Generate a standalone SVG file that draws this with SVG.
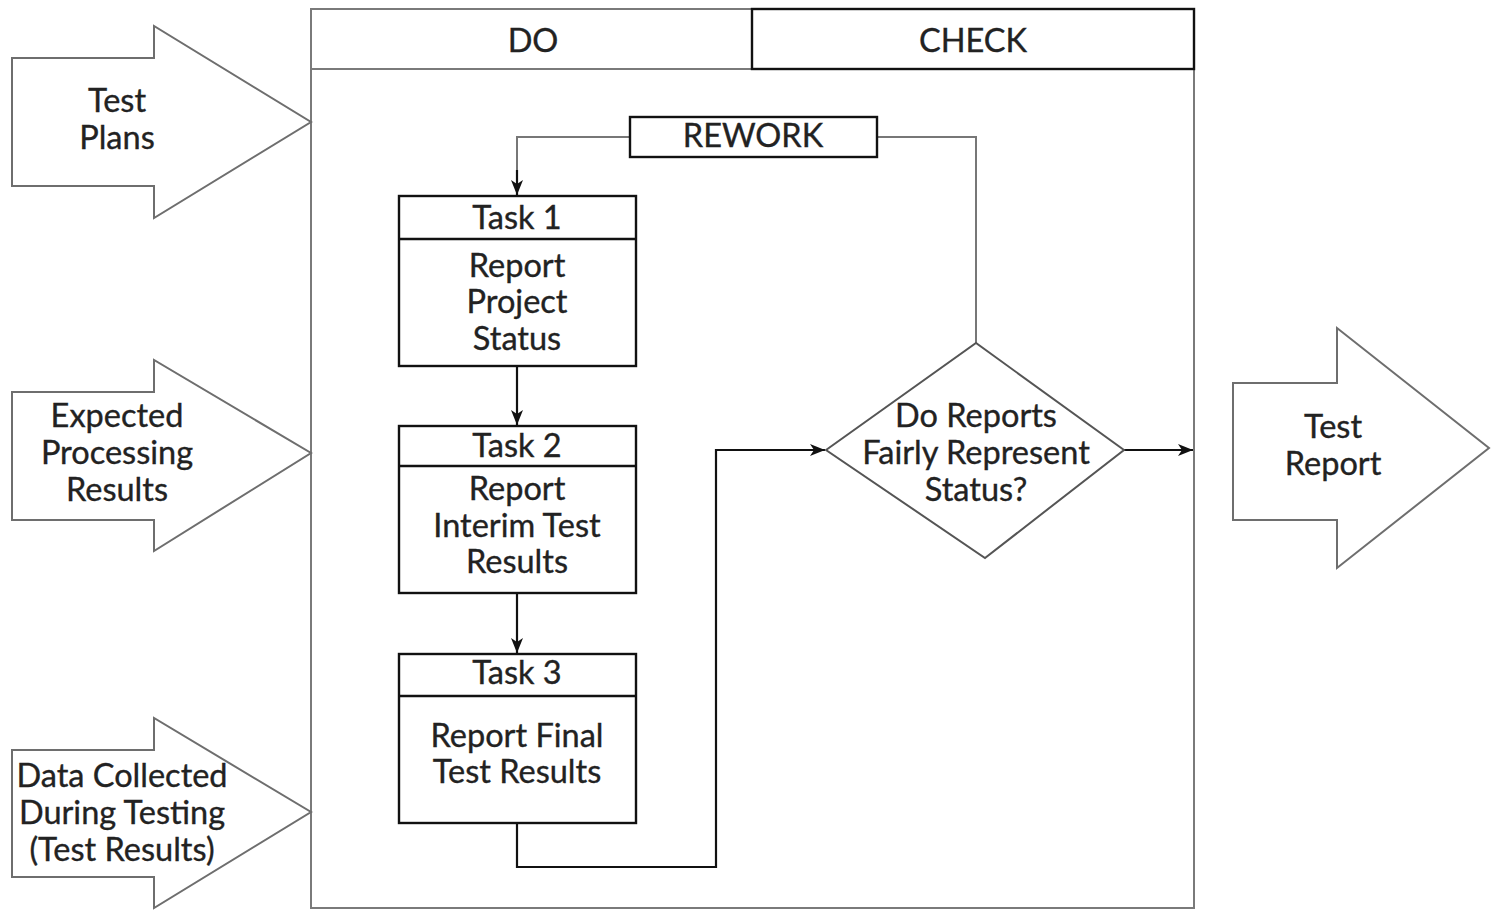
<svg xmlns="http://www.w3.org/2000/svg" width="1491" height="910" viewBox="0 0 1491 910">
  <style>
    .lbl { font-family: Lato, "Open Sans", "Liberation Sans", sans-serif; font-size: 32.5px; fill: #222; stroke: #222; stroke-width: 0.35; text-anchor: middle; }
    .frame { fill: #fff; stroke: #7a7a7a; stroke-width: 2; }
    .box { fill: #fff; stroke: #111; stroke-width: 2.4; }
    .io { fill: #fff; stroke: #6e6e6e; stroke-width: 2; stroke-linejoin: miter; }
    .wire { fill: none; stroke: #111; stroke-width: 2.2; }
    .wire-grey { fill: none; stroke: #777; stroke-width: 2; }
  </style>
  <defs>
    <marker id="arr" viewBox="0 0 15 12" refX="15" refY="6" markerWidth="15" markerHeight="12" markerUnits="userSpaceOnUse" orient="auto">
      <path d="M0,0 L15,6 L0,12 L4,6 Z" fill="#111"/>
    </marker>
  </defs>
  <rect width="1491" height="910" fill="#fff"/>

  <!-- DO / CHECK frame -->
  <g id="frame">
    <rect class="frame" x="311" y="9" width="883" height="899"/>
    <line x1="311" y1="69" x2="1194" y2="69" stroke="#7a7a7a" stroke-width="2"/>
    <rect x="752" y="9" width="442" height="60" fill="none" stroke="#111" stroke-width="2.4"/>
    <text class="lbl" x="533" y="52">DO</text>
    <text class="lbl" x="973" y="52">CHECK</text>
  </g>

  <!-- inputs -->
  <g id="in-test-plans">
    <polygon class="io" points="12,58 154,58 154,26 311,122 154,218 154,186 12,186"/>
    <text class="lbl" x="117" y="112">Test</text>
    <text class="lbl" x="117" y="149">Plans</text>
  </g>
  <g id="in-expected">
    <polygon class="io" points="12,392 154,392 154,360 311,453 154,551 154,520 12,520"/>
    <text class="lbl" x="117" y="427">Expected</text>
    <text class="lbl" x="117" y="464">Processing</text>
    <text class="lbl" x="117" y="501">Results</text>
  </g>
  <g id="in-data">
    <polygon class="io" points="12,750 154,750 154,718 311,812 154,908 154,877 12,877"/>
    <text class="lbl" x="122" y="787">Data Collected</text>
    <text class="lbl" x="122" y="824">During Testing</text>
    <text class="lbl" x="122" y="861">(Test Results)</text>
  </g>

  <!-- output -->
  <g id="out-test-report">
    <polygon class="io" points="1233,383 1337,383 1337,328 1489,448 1337,568 1337,520 1233,520"/>
    <text class="lbl" x="1333" y="438">Test</text>
    <text class="lbl" x="1333" y="475">Report</text>
  </g>

  <!-- connectors -->
  <g id="connectors">
    <polyline class="wire-grey" points="630,137 517,137 517,180"/>
    <line class="wire" x1="517" y1="170" x2="517" y2="195" marker-end="url(#arr)"/>
    <polyline class="wire-grey" points="877,137 976,137 976,343"/>
    <line class="wire" x1="517" y1="366" x2="517" y2="425" marker-end="url(#arr)"/>
    <line class="wire" x1="517" y1="593" x2="517" y2="653" marker-end="url(#arr)"/>
    <polyline class="wire" points="517,823 517,867 716,867 716,450 825,450" marker-end="url(#arr)"/>
    <line class="wire" x1="1124" y1="450" x2="1193" y2="450" marker-end="url(#arr)"/>
  </g>

  <!-- rework -->
  <g id="rework">
    <rect class="box" x="630" y="117" width="247" height="40"/>
    <text class="lbl" x="753" y="147">REWORK</text>
  </g>

  <!-- tasks -->
  <g id="task1">
    <rect class="box" x="399" y="196" width="237" height="170"/>
    <line x1="399" y1="239" x2="636" y2="239" stroke="#111" stroke-width="2.4"/>
    <text class="lbl" x="517" y="229">Task 1</text>
    <text class="lbl" x="517" y="277">Report</text>
    <text class="lbl" x="517" y="313">Project</text>
    <text class="lbl" x="517" y="350">Status</text>
  </g>
  <g id="task2">
    <rect class="box" x="399" y="426" width="237" height="167"/>
    <line x1="399" y1="466" x2="636" y2="466" stroke="#111" stroke-width="2.4"/>
    <text class="lbl" x="517" y="457">Task 2</text>
    <text class="lbl" x="517" y="500">Report</text>
    <text class="lbl" x="517" y="537">Interim Test</text>
    <text class="lbl" x="517" y="573">Results</text>
  </g>
  <g id="task3">
    <rect class="box" x="399" y="654" width="237" height="169"/>
    <line x1="399" y1="696" x2="636" y2="696" stroke="#111" stroke-width="2.4"/>
    <text class="lbl" x="517" y="684">Task 3</text>
    <text class="lbl" x="517" y="747">Report Final</text>
    <text class="lbl" x="517" y="783">Test Results</text>
  </g>

  <!-- decision -->
  <g id="decision">
    <polygon points="826,450 976,343 1124,450 985,558" fill="#fff" stroke="#555" stroke-width="2"/>
    <text class="lbl" x="976" y="427">Do Reports</text>
    <text class="lbl" x="976" y="464">Fairly Represent</text>
    <text class="lbl" x="976" y="501">Status?</text>
  </g>
</svg>
